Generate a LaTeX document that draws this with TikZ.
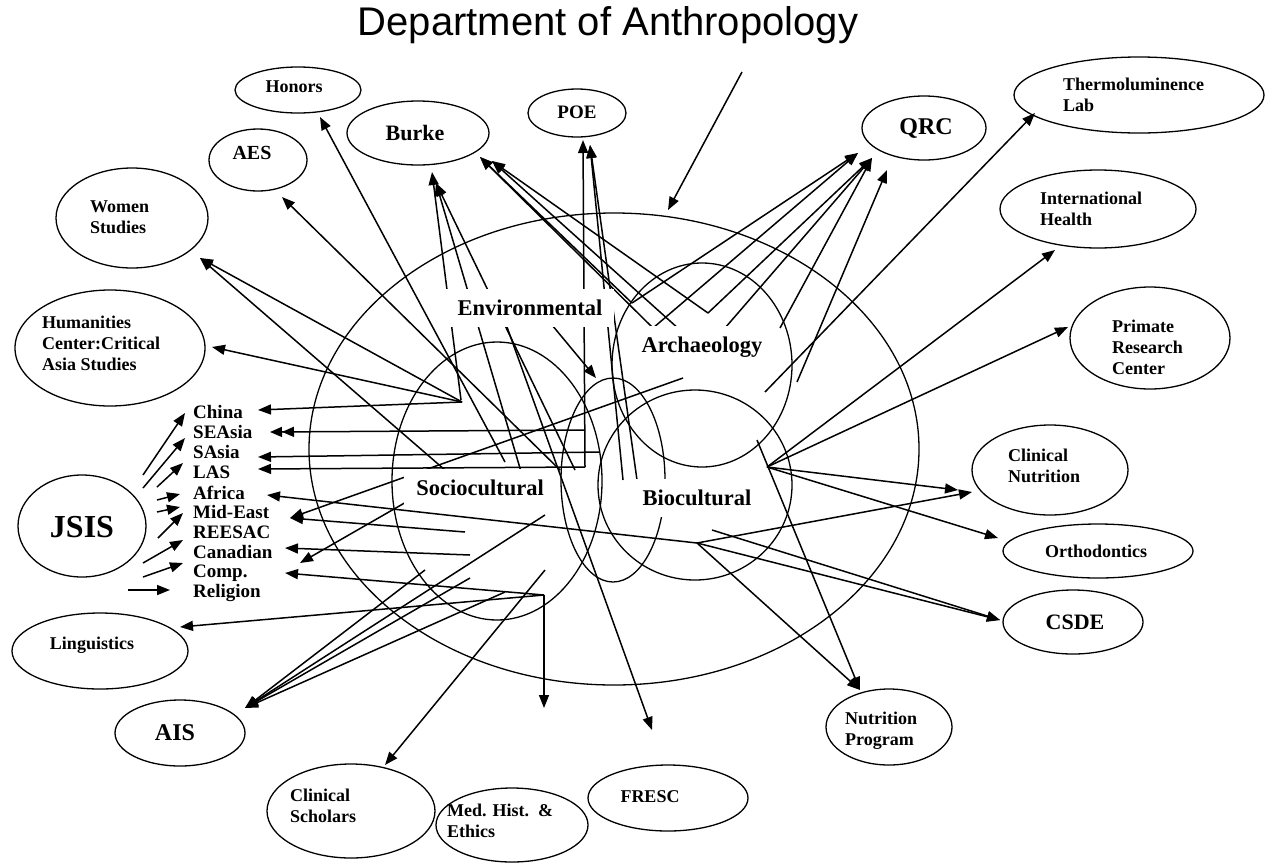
\documentclass[tikz,border=0pt]{standalone}
\usepackage{fontspec}
\setmainfont{Liberation Serif}
\setsansfont{Liberation Sans}
\usetikzlibrary{shapes.geometric,arrows.meta}
\begin{document}
\begin{tikzpicture}[x=1pt,y=-1pt,
  ring/.style={draw,ellipse,line width=1.3pt,inner sep=0pt},
  ell/.style={draw,ellipse,line width=1.3pt,inner sep=0pt,fill=white},
  txt/.style={font=\bfseries\fontsize{18}{21}\selectfont,align=left,inner sep=0pt},
  lst/.style={font=\bfseries\fontsize{19}{20}\selectfont,anchor=west,inner sep=0pt},
  big/.style={font=\bfseries\fontsize{22.5}{26}\selectfont,fill=white,inner xsep=12pt,inner ysep=11pt},
  con/.style={line width=1.5pt,-{Triangle[length=13pt,width=10pt]}},
  con2/.style={line width=1.5pt,-{Triangle[length=12pt,width=10pt]Triangle[length=12pt,width=10pt]}}
]
\useasboundingbox (0,0) rectangle (1265,865);
% title
\node[font=\sffamily\fontsize{40}{43}\selectfont,inner sep=0pt] (title) at (608,25) {Department of Anthropology};
% structure
\node[ring,minimum width=610pt,minimum height=472pt] (dept) at (614,449) {};
\node[ring,minimum width=210pt,minimum height=278pt] (socio) at (497,481) {};
\node[ring,minimum width=104pt,minimum height=204pt] (mid) at (613,480) {};
\node[ring,minimum width=180pt,minimum height=204pt] (arch) at (702,365) {};
\node[ring,minimum width=194pt,minimum height=190pt] (bio) at (695,485) {};
% outer ellipses
\node[ell,minimum width=126pt,minimum height=46pt] (honors) at (298,90) {};
\node[ell,minimum width=98pt,minimum height=62pt] (aes) at (258,160) {};
\node[ell,minimum width=152pt,minimum height=100pt] (women) at (132,218) {};
\node[ell,minimum width=190pt,minimum height=116pt] (human) at (110,348) {};
\node[ell,minimum width=142pt,minimum height=64pt] (burke) at (418,133) {};
\node[ell,minimum width=98pt,minimum height=48pt] (poe) at (577,113) {};
\node[ell,minimum width=124pt,minimum height=64pt] (qrc) at (924,128) {};
\node[ell,minimum width=250pt,minimum height=76pt] (thermo) at (1139,95) {};
\node[ell,minimum width=196pt,minimum height=78pt] (intl) at (1098,209) {};
\node[ell,minimum width=160pt,minimum height=102pt] (primate) at (1150,338) {};
\node[ell,minimum width=156pt,minimum height=90pt] (clinnut) at (1050,470) {};
\node[ell,minimum width=190pt,minimum height=54pt] (ortho) at (1098,551) {};
\node[ell,minimum width=140pt,minimum height=64pt] (csde) at (1073,622) {};
\node[ell,minimum width=126pt,minimum height=76pt] (nutprog) at (889,727) {};
\node[ell,minimum width=160pt,minimum height=66pt] (fresc) at (668,798) {};
\node[ell,minimum width=152pt,minimum height=74pt] (medhist) at (512,825) {};
\node[ell,minimum width=168pt,minimum height=94pt] (clinsch) at (351,811) {};
\node[ell,minimum width=130pt,minimum height=66pt] (ais) at (180,733) {};
\node[ell,minimum width=176pt,minimum height=76pt] (ling) at (100,651) {};
\node[ell,minimum width=128pt,minimum height=102pt] (jsis) at (82,526) {};
% texts
\node[txt] (honors-t) at (294,87) {Honors};
\node[txt,font=\bfseries\fontsize{20}{22}\selectfont] (aes-t) at (252,153) {AES};
\node[txt,anchor=west] (women-t) at (90,217) {Women\\Studies};
\node[txt,anchor=west] (human-t) at (42,343) {Humanities\\Center:Critical\\Asia Studies};
\node[txt,font=\bfseries\fontsize{22}{24}\selectfont] (burke-t) at (415,133) {Burke};
\node[txt,font=\bfseries\fontsize{19}{22}\selectfont] (poe-t) at (577,112) {POE};
\node[txt,font=\bfseries\fontsize{24}{26}\selectfont] (qrc-t) at (926,128) {QRC};
\node[txt,anchor=west] (thermo-t) at (1063,95) {Thermoluminence\\Lab};
\node[txt,anchor=west] (intl-t) at (1040,209) {International\\Health};
\node[txt,anchor=west] (primate-t) at (1112,347) {Primate\\Research\\Center};
\node[txt,anchor=west] (clinnut-t) at (1008,466) {Clinical\\Nutrition};
\node[txt] (ortho-t) at (1096,551) {Orthodontics};
\node[txt,font=\bfseries\fontsize{22}{24}\selectfont] (csde-t) at (1075,622) {CSDE};
\node[txt,anchor=west] (nutprog-t) at (845,731) {Nutrition\\Program};
\node[txt] (fresc-t) at (650,797) {FRESC};
\node[txt,anchor=west] (medhist-t) at (447,821) {Med. Hist.\ \ \&\\Ethics};
\node[txt,anchor=west] (clinsch-t) at (290,806) {Clinical\\Scholars};
\node[txt,font=\bfseries\fontsize{24}{26}\selectfont] (ais-t) at (175,733) {AIS};
\node[txt] (ling-t) at (92,645) {Linguistics};
\node[txt,font=\bfseries\fontsize{32}{34}\selectfont] (jsis-t) at (82,527) {JSIS};
% list
\node[lst] (china) at (193,412) {China};
\node[lst] (seasia) at (193,432) {SEAsia};
\node[lst] (sasia) at (193,452) {SAsia};
\node[lst] (las) at (193,472) {LAS};
\node[lst] (africa) at (193,493) {Africa};
\node[lst] (mideast) at (193,512) {Mid-East};
\node[lst] (reesac) at (193,532) {REESAC};
\node[lst] (canadian) at (193,552) {Canadian};
\node[lst] (comp) at (193,573) {Comp.};
\node[lst] (religion) at (193,593) {Religion};
% coordinates
\coordinate (tstart) at (742,72); \coordinate (tTitle) at (668,210);
\coordinate (hA) at (462,402);
\coordinate (hB1) at (585,430); \coordinate (hB2) at (585,467);
\coordinate (hC) at (767,467); \coordinate (hD) at (697,543);
\coordinate (hE) at (544,595);
\coordinate (v1) at (632,303); \coordinate (v2) at (653,328);
\coordinate (v3) at (708,313); \coordinate (v4) at (680,330);
\coordinate (v5) at (725,328); \coordinate (v6) at (780,328);
\coordinate (v7) at (797,382);
\coordinate (tHon) at (320,117); \coordinate (sHon) at (505,462);
\coordinate (tAES) at (282,197); \coordinate (sAES) at (560,470);
\coordinate (tWom) at (200,258); \coordinate (sWom2) at (445,470);
\coordinate (tHum) at (212,347); \coordinate (tChina) at (258,410);
\coordinate (tSEA) at (270,432); \coordinate (tSAs) at (258,457); \coordinate (sSAs) at (600,452);
\coordinate (tLAS) at (258,469); \coordinate (tAfr) at (267,495);
\coordinate (tMid) at (290,518); \coordinate (sMid1) at (683,378); \coordinate (sMid2) at (465,532);
\coordinate (tCan) at (285,548); \coordinate (sCan) at (470,555);
\coordinate (tBlob) at (300,563); \coordinate (sBlob) at (462,470);
\coordinate (tComp) at (285,573); \coordinate (tLing) at (180,627);
\coordinate (tAIS) at (245,708);
\coordinate (a1) at (545,515); \coordinate (a2) at (505,592); \coordinate (a3) at (470,578); \coordinate (a4) at (425,570);
\coordinate (tCS) at (385,765); \coordinate (sCS) at (545,570);
\coordinate (tMH) at (544,708);
\coordinate (tFR) at (652,730); \coordinate (sFR) at (507,327);
\coordinate (tNP) at (860,690); \coordinate (sNP2) at (757,440);
\coordinate (tCSDE) at (1000,620); \coordinate (sCSDE2) at (712,530);
\coordinate (tOrt) at (998,538);
\coordinate (tCN1) at (958,490); \coordinate (tCN2) at (972,492);
\coordinate (tPri) at (1068,327); \coordinate (tInt) at (1055,250);
\coordinate (tThe) at (1035,113); \coordinate (sThe) at (765,392);
\coordinate (tQ1) at (858,153); \coordinate (tQ2) at (872,158); \coordinate (tQ3) at (887,170);
\coordinate (tPOE1) at (583,140); \coordinate (tPOE2) at (590,145);
\coordinate (sP2a) at (623,480); \coordinate (sP2b) at (637,480);
\coordinate (tB1) at (432,172); \coordinate (tB2) at (436,183);
\coordinate (sB1) at (461,400); \coordinate (sB2) at (522,475); \coordinate (sB3) at (575,470);
\coordinate (tBR1) at (480,157); \coordinate (tBR2) at (492,161);
\coordinate (sEnv) at (552,325); \coordinate (tEnv) at (596,378);
% connectors
\draw[con] (tstart) -- (tTitle);
\draw[con] (sHon) -- (tHon);
\draw[con] (sAES) -- (tAES);
\draw[con] (hA) -- (tWom);
\draw[con] (sWom2) -- (tWom);
\draw[con] (hA) -- (tHum);
\draw[con] (hA) -- (tChina);
\draw[con2] (hB1) -- (tSEA);
\draw[con] (sSAs) -- (tSAs);
\draw[con] (hB2) -- (tLAS);
\draw[con] (hD) -- (tAfr);
\draw[con] (sMid1) -- (tMid);
\draw[con] (sMid2) -- (tMid);
\draw[con] (sCan) -- (tCan);
\draw[con] (sBlob) -- (tBlob);
\draw[con] (hE) -- (tComp);
\draw[con] (hE) -- (tLing);
\draw[con] (hE) -- (tMH);
\foreach \a in {a1,a2,a3,a4} \draw[con] (\a) -- (tAIS);
\draw[con] (sCS) -- (tCS);
\draw[con] (sFR) -- (tFR);
\draw[con] (hD) -- (tNP);
\draw[con] (sNP2) -- (tNP);
\draw[con] (hD) -- (tCSDE);
\draw[con] (sCSDE2) -- (tCSDE);
\draw[con] (hC) -- (tOrt);
\draw[con] (hC) -- (tCN1);
\draw[con] (hD) -- (tCN2);
\draw[con] (hC) -- (tPri);
\draw[con] (hC) -- (tInt);
\draw[con] (sThe) -- (tThe);
\draw[con] (v1) -- (tQ1); \draw[con] (v2) -- (tQ1);
\draw[con] (v3) -- (tQ2); \draw[con] (v5) -- (tQ2); \draw[con] (v6) -- (tQ2);
\draw[con] (v7) -- (tQ3);
\draw[con] (v1) -- (tBR1); \draw[con] (v2) -- (tBR1);
\draw[con] (v4) -- (tBR2); \draw[con] (v3) -- (tBR2);
\draw[con] (sB1) -- (tB1); \draw[con] (sB2) -- (tB2); \draw[con] (sB3) -- (tB2);
\draw[con] (hB2) -- (tPOE1);
\draw[con] (sP2a) -- (tPOE2); \draw[con] (sP2b) -- (tPOE2);
\draw[con] (sEnv) -- (tEnv);
% JSIS arrows
\coordinate (j1s) at (143,475); \coordinate (j1t) at (185,413);
\coordinate (j2s) at (143,488); \coordinate (j2t) at (185,438);
\coordinate (j3s) at (157,487); \coordinate (j3t) at (183,463);
\coordinate (j4s) at (157,500); \coordinate (j4t) at (180,494);
\coordinate (j5s) at (157,512); \coordinate (j5t) at (180,507);
\coordinate (j6s) at (158,538); \coordinate (j6t) at (183,513);
\coordinate (j7s) at (143,563); \coordinate (j7t) at (183,540);
\coordinate (j8s) at (143,577); \coordinate (j8t) at (183,563);
\coordinate (j9s) at (128,590); \coordinate (j9t) at (170,590);
\foreach \i in {1,...,9} \draw[con] (j\i s) -- (j\i t);
% region labels
\node[big] (env) at (530,308) {Environmental};
\node[big] (archl) at (702,347) {Archaeology};
\node[big] (socl) at (480,488) {Sociocultural};
\node[big] (biol) at (697,498) {Biocultural};
\end{tikzpicture}
\end{document}
